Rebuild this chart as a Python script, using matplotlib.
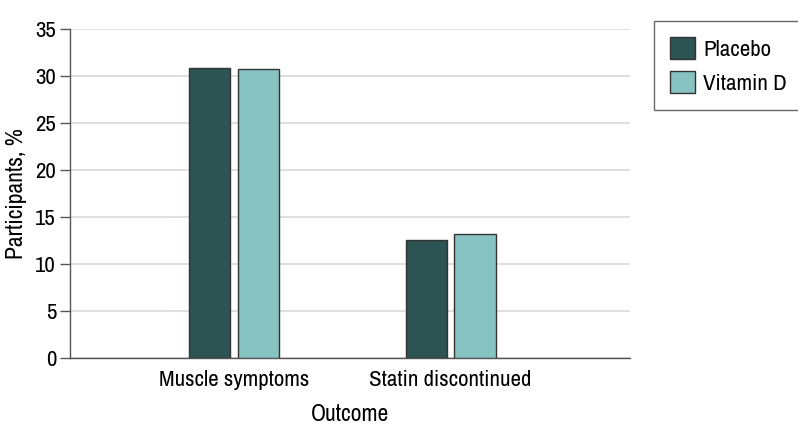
"""Grouped bar chart: muscle symptoms and statin discontinuation by arm."""

import matplotlib

matplotlib.use("Agg")
import matplotlib.pyplot as plt
from matplotlib import font_manager
import numpy as np

outcomes = ["Muscle symptoms", "Statin discontinued"]
placebo = [30.9, 12.6]
vitamin_d = [30.7, 13.2]
series_labels = ["Placebo", "Vitamin D"]

PLACEBO_COLOR = "#2b5453"
VITD_COLOR = "#86c3c2"
EDGE_COLOR = "#333333"
GRID_COLOR = "#d9d9d9"
AXIS_COLOR = "#555555"

# a narrow face stands in for the journal's condensed sans
names = sorted({f.name for f in font_manager.fontManager.ttflist})
condensed = [n for n in names if "Narrow" in n or "Condensed" in n]
plt.rcParams["font.family"] = condensed[:1] + ["DejaVu Sans"]
plt.rcParams["font.stretch"] = "condensed"

fig = plt.figure(figsize=(7.98, 4.43), dpi=100)
ax = fig.add_axes([70 / 798, 1 - 358 / 443, 560 / 798, 329 / 443])

x = np.arange(len(outcomes))
width = 0.19
offset = 0.113
ax.bar(x - offset, placebo, width, color=PLACEBO_COLOR, edgecolor=EDGE_COLOR,
       linewidth=1.0, label=series_labels[0], zorder=3)
ax.bar(x + offset, vitamin_d, width, color=VITD_COLOR, edgecolor=EDGE_COLOR,
       linewidth=1.0, label=series_labels[1], zorder=3)

ax.set_xlim(-0.76, 1.83)
ax.set_ylim(0, 35)
ax.set_yticks(np.arange(0, 36, 5))
ax.set_xticks(x)
ax.set_xticklabels(outcomes)
ax.tick_params(axis="x", length=0, pad=9, labelsize=16.5)
ax.tick_params(axis="y", length=7, width=1, color=AXIS_COLOR, labelsize=16.5, pad=3)

ax.yaxis.grid(True, color=GRID_COLOR, linewidth=1.2, zorder=0)
ax.set_axisbelow(True)
for side in ("top", "right"):
    ax.spines[side].set_visible(False)
for side in ("left", "bottom"):
    ax.spines[side].set_color(AXIS_COLOR)
    ax.spines[side].set_linewidth(1.0)

ax.set_xlabel("Outcome", fontsize=17, labelpad=10)
ax.set_ylabel("Participants, %", fontsize=17, labelpad=6)

leg = fig.legend(loc="upper left", bbox_to_anchor=(654 / 798, 1 - 21 / 443),
                 fontsize=16.5, frameon=True, fancybox=False, handlelength=1.1,
                 handleheight=1.1, borderpad=0.7, labelspacing=0.5,
                 handletextpad=0.35, borderaxespad=0)
leg.get_frame().set_edgecolor("#444444")
leg.get_frame().set_linewidth(1.0)

fig.savefig("out.png", dpi=100, facecolor="white")
